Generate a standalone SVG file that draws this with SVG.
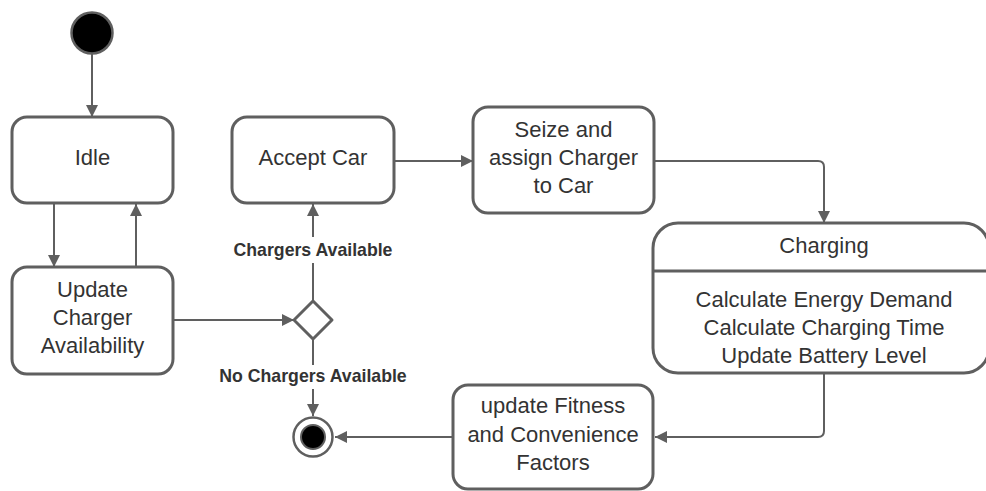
<svg xmlns="http://www.w3.org/2000/svg" width="986" height="491" viewBox="0 0 986 491">
  <style>
    .box { fill: #ffffff; stroke: #5f5f5f; stroke-width: 3; }
    .lbl { font-family: "Liberation Sans", Arial, sans-serif; font-size: 22px; fill: #333333; text-anchor: middle; }
    .guard { font-family: "Liberation Sans", Arial, sans-serif; font-size: 17.7px; font-weight: bold; fill: #333333; text-anchor: middle; }
    .edge { fill: none; stroke: #5f5f5f; stroke-width: 2; }
  </style>
  <defs>
    <marker id="arrow" markerUnits="userSpaceOnUse" markerWidth="13" markerHeight="13" refX="12" refY="6" orient="auto">
      <path d="M0,0 L12,6 L0,12 z" fill="#5f5f5f"/>
    </marker>
  </defs>

  <rect width="986" height="491" fill="#ffffff"/>

  <!-- connectors -->
  <g id="connectors">
    <path class="edge" d="M92 54 V117" marker-end="url(#arrow)"/>
    <path class="edge" d="M54 204 V267" marker-end="url(#arrow)"/>
    <path class="edge" d="M136 267 V204" marker-end="url(#arrow)"/>
    <path class="edge" d="M173 320 H294" marker-end="url(#arrow)"/>
    <path class="edge" d="M313 301 V263"/>
    <path class="edge" d="M313 237 V204" marker-end="url(#arrow)"/>
    <path class="edge" d="M394 161 H473" marker-end="url(#arrow)"/>
    <path class="edge" d="M654 161 H818 Q824 161 824 167 V223" marker-end="url(#arrow)"/>
    <path class="edge" d="M824 373 V431 Q824 437 818 437 H655" marker-end="url(#arrow)"/>
    <path class="edge" d="M453 437 H335" marker-end="url(#arrow)"/>
    <path class="edge" d="M313 340 V365"/>
    <path class="edge" d="M313 389 V416" marker-end="url(#arrow)"/>
    <text class="guard" x="313" y="256">Chargers Available</text>
    <text class="guard" x="313" y="382">No Chargers Available</text>
  </g>

  <!-- initial state -->
  <g id="start">
    <circle cx="92" cy="33" r="20.5" fill="#000000" stroke="#5f5f5f" stroke-width="2.5"/>
  </g>

  <g id="idle">
    <rect class="box" x="12" y="117" width="161" height="86" rx="15"/>
    <text class="lbl" x="92.5" y="165">Idle</text>
  </g>

  <g id="update-availability">
    <rect class="box" x="12" y="267" width="161" height="107" rx="15"/>
    <text class="lbl" x="92.5" y="297">Update</text>
    <text class="lbl" x="92.5" y="325">Charger</text>
    <text class="lbl" x="92.5" y="353">Availability</text>
  </g>

  <g id="decision">
    <path d="M313 301 L332 320 L313 339 L294 320 Z" fill="#ffffff" stroke="#5f5f5f" stroke-width="3" stroke-linejoin="round"/>
  </g>

  <g id="accept-car">
    <rect class="box" x="232" y="117" width="162" height="86" rx="15"/>
    <text class="lbl" x="313" y="165">Accept Car</text>
  </g>

  <g id="seize-charger">
    <rect class="box" x="473" y="107" width="181" height="106" rx="15"/>
    <text class="lbl" x="563.5" y="137">Seize and</text>
    <text class="lbl" x="563.5" y="165">assign Charger</text>
    <text class="lbl" x="563.5" y="193">to Car</text>
  </g>

  <g id="charging">
    <rect class="box" x="653" y="223" width="336" height="150" rx="25"/>
    <line x1="653" y1="271" x2="989" y2="271" stroke="#5f5f5f" stroke-width="3"/>
    <text class="lbl" x="824" y="253">Charging</text>
    <text class="lbl" x="824" y="307">Calculate Energy Demand</text>
    <text class="lbl" x="824" y="335">Calculate Charging Time</text>
    <text class="lbl" x="824" y="363">Update Battery Level</text>
  </g>

  <g id="update-fitness">
    <rect class="box" x="453" y="385" width="200" height="104" rx="15"/>
    <text class="lbl" x="553" y="413">update Fitness</text>
    <text class="lbl" x="553" y="442">and Convenience</text>
    <text class="lbl" x="553" y="470">Factors</text>
  </g>

  <!-- final state -->
  <g id="end">
    <circle cx="313" cy="437" r="19.5" fill="#ffffff" stroke="#5f5f5f" stroke-width="2.5"/>
    <circle cx="313" cy="437" r="12" fill="#000000" stroke="#5f5f5f" stroke-width="2"/>
  </g>
</svg>
